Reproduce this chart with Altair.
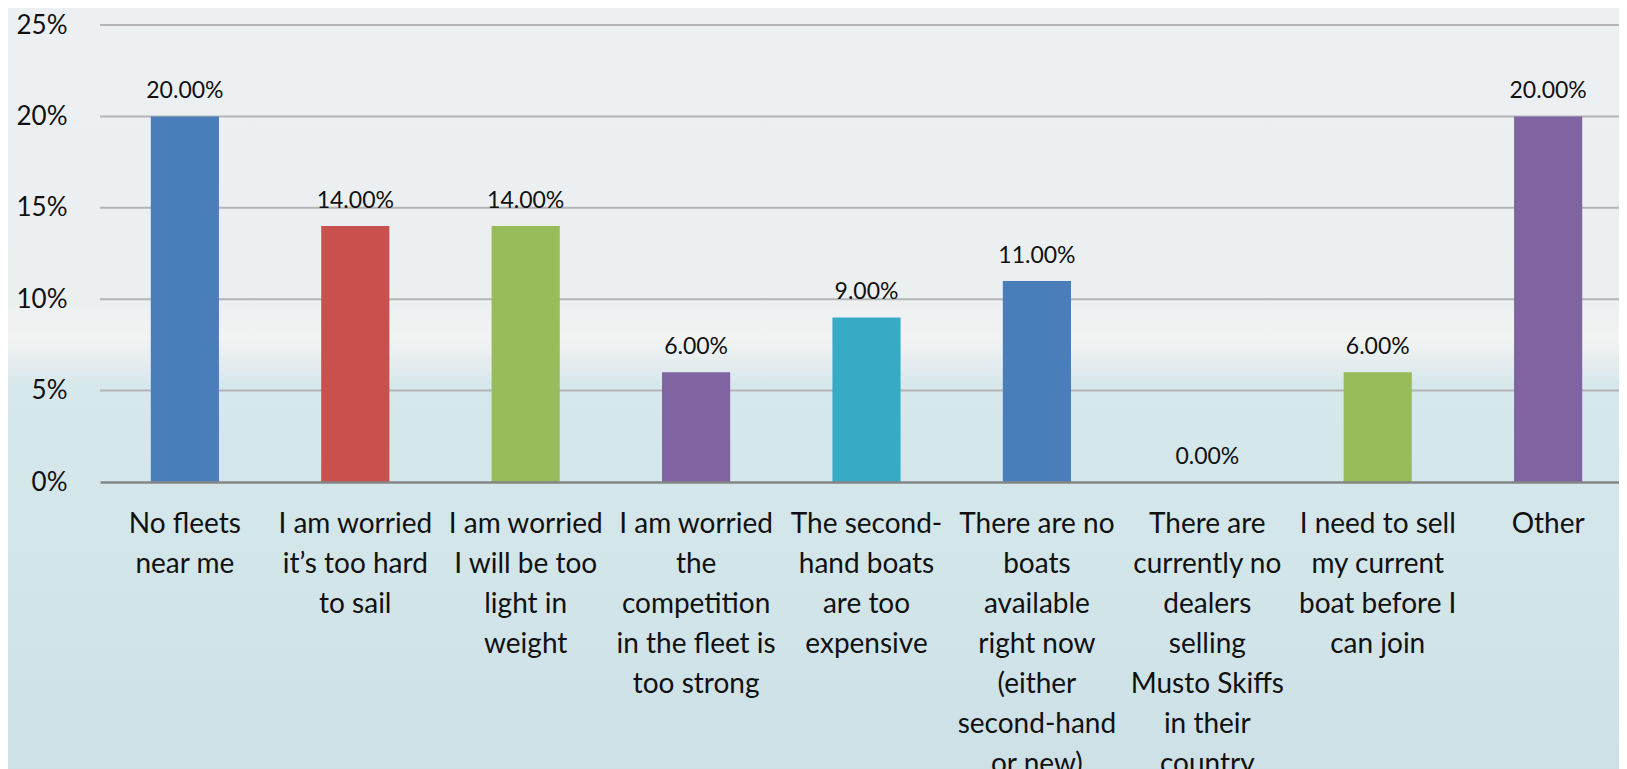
import altair as alt
import pandas as pd

categories = [
    "No fleets|near me",
    "I am worried|it’s too hard|to sail",
    "I am worried|I will be too|light in|weight",
    "I am worried|the|competition|in the fleet is|too strong",
    "The second-|hand boats|are too|expensive",
    "There are no|boats|available|right now|(either|second-hand|or new)",
    "There are|currently no|dealers|selling|Musto Skiffs|in their|country",
    "I need to sell|my current|boat before I|can join",
    "Other",
]
values = [0.20, 0.14, 0.14, 0.06, 0.09, 0.11, 0.00, 0.06, 0.20]
bar_colors = ["#4a7ebb", "#c8504d", "#98bb5c", "#8064a1", "#37abc5",
              "#4a7ebb", "#c8504d", "#98bb5c", "#8064a1"]
y_ticks = [0, 0.05, 0.10, 0.15, 0.20, 0.25]

df = pd.DataFrame({"cat": categories, "val": values})
grid_df = pd.DataFrame({"tick": y_ticks[1:]})

FONT = "Lato"
W = 1519
H = 457

x_enc = alt.X(
    "cat:N", sort=None, title=None,
    scale=alt.Scale(paddingInner=0.6, paddingOuter=0.257, align=0.58),
    axis=alt.Axis(
        labelExpr="split(datum.label, '|')",
        labelAngle=0, labelFont=FONT, labelFontSize=28, labelLineHeight=40,
        labelColor="#111111", labelPadding=28, labelLimit=400, labelOverlap=False,
        ticks=False, domain=True, domainColor="#858585", domainWidth=2.5,
        grid=False, zindex=1,
    ),
)
y_scale = alt.Scale(domain=[0, 0.25], nice=False)
y_enc = alt.Y(
    "val:Q", title=None, scale=y_scale,
    axis=alt.Axis(
        values=y_ticks, format=".0%", labelFont=FONT, labelFontSize=26,
        labelColor="#111111", labelPadding=33, ticks=False, domain=False,
        grid=False, zindex=1,
    ),
)

bg = alt.Chart(df).mark_rect(
    fill=alt.Gradient(
        gradient="linear", x1=0, y1=0, x2=0, y2=1,
        stops=[
            alt.GradientStop(color="#edf0f3", offset=0),
            alt.GradientStop(color="#eceff0", offset=0.39),
            alt.GradientStop(color="#f2f3f3", offset=0.44),
            alt.GradientStop(color="#e4ecee", offset=0.475),
            alt.GradientStop(color="#d6e8ec", offset=0.50),
            alt.GradientStop(color="#d2e5e9", offset=0.75),
            alt.GradientStop(color="#cde0e6", offset=1),
        ],
    ),
    stroke=None,
).encode(
    x=alt.value(-100), x2=alt.value(W), y=alt.value(-25), y2=alt.value(744)
)

grid = alt.Chart(grid_df).mark_rule(color="#b4b4b4", strokeWidth=2).encode(
    y=alt.Y("tick:Q", scale=y_scale),
    x=alt.value(0), x2=alt.value(W),
)

bars = alt.Chart(df).mark_bar().encode(
    x=x_enc, y=y_enc,
    color=alt.Color("cat:N", sort=None, scale=alt.Scale(domain=categories, range=bar_colors), legend=None),
)

texts = alt.Chart(df).mark_text(
    font=FONT, fontSize=23, baseline="alphabetic", dy=-18, color="#111111"
).encode(
    x=alt.X("cat:N", sort=None),
    y=alt.Y("val:Q"),
    text=alt.Text("val:Q", format=".2%"),
)

chart = alt.layer(bg, grid, bars, texts).properties(
    width=W, height=H,
    autosize=alt.AutoSizeParams(type="none"),
    padding={"left": 92, "top": 17, "right": 0, "bottom": 287},
).configure_view(stroke=None).configure(background="#dfe9ec")

chart.save("out.html", embed_options={"renderer": "svg", "actions": False})
